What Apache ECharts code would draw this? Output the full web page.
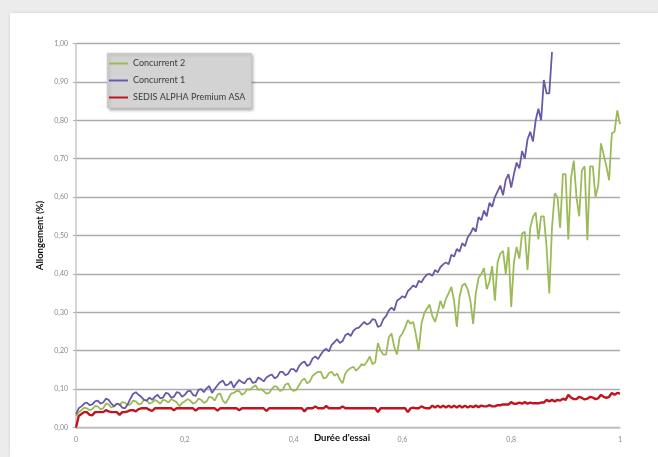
<!DOCTYPE html>
<html><head><meta charset="utf-8">
<script src="https://cdn.jsdelivr.net/npm/echarts@6/dist/echarts.min.js"></script>
<style>
html,body{margin:0;padding:0;width:658px;height:457px;overflow:hidden;background:#ececec;}
#card{position:absolute;left:10px;top:13px;width:648px;height:444px;background:#fff;box-shadow:0 0 3px rgba(0,0,0,0.12);}
#chart{position:absolute;left:0;top:0;width:658px;height:457px;}
</style></head><body><div id="card"></div><div id="chart"></div>
<script>
// Durée d'essai (x)
const duree = [
  0,0.005,0.01,0.015,0.02,0.025,0.03,0.035,0.04,0.045,
  0.05,0.055,0.06,0.065,0.07,0.075,0.08,0.085,0.09,0.095,
  0.10,0.105,0.11,0.115,0.12,0.125,0.13,0.135,0.14,0.145,
  0.15,0.155,0.16,0.165,0.17,0.175,0.18,0.185,0.19,0.195,
  0.20,0.205,0.21,0.215,0.22,0.225,0.23,0.235,0.24,0.245,
  0.25,0.255,0.26,0.265,0.27,0.275,0.28,0.285,0.29,0.295,
  0.30,0.305,0.31,0.315,0.32,0.325,0.33,0.335,0.34,0.345,
  0.35,0.355,0.36,0.365,0.37,0.375,0.38,0.385,0.39,0.395,
  0.40,0.405,0.41,0.415,0.42,0.425,0.43,0.435,0.44,0.445,
  0.45,0.455,0.46,0.465,0.47,0.475,0.48,0.485,0.49,0.495,
  0.50,0.505,0.51,0.515,0.52,0.525,0.53,0.535,0.54,0.545,
  0.55,0.555,0.56,0.565,0.57,0.575,0.58,0.585,0.59,0.595,
  0.60,0.605,0.61,0.615,0.62,0.625,0.63,0.635,0.64,0.645,
  0.65,0.655,0.66,0.665,0.67,0.675,0.68,0.685,0.69,0.695,
  0.70,0.705,0.71,0.715,0.72,0.725,0.73,0.735,0.74,0.745,
  0.75,0.755,0.76,0.765,0.77,0.775,0.78,0.785,0.79,0.795,
  0.80,0.805,0.81,0.815,0.82,0.825,0.83,0.835,0.84,0.845,
  0.85,0.855,0.86,0.865,0.87,0.875,0.88,0.885,0.89,0.895,
  0.90,0.905,0.91,0.915,0.92,0.925,0.93,0.935,0.94,0.945,
  0.95,0.955,0.96,0.965,0.97,0.975,0.98,0.985,0.99,0.995,
  1.00];

// Allongement (%) – Concurrent 1 (stops at 0.875)
const concurrent1 = [
  0.035,0.05,0.055,0.062,0.065,0.058,0.06,0.068,0.07,0.062,
  0.065,0.075,0.072,0.062,0.055,0.062,0.06,0.052,0.05,0.06,
  0.075,0.088,0.092,0.085,0.08,0.072,0.07,0.078,0.072,0.08,
  0.085,0.076,0.078,0.09,0.088,0.078,0.08,0.092,0.09,0.08,
  0.085,0.094,0.096,0.085,0.082,0.098,0.10,0.092,0.102,0.108,
  0.09,0.10,0.11,0.118,0.122,0.11,0.112,0.12,0.104,0.115,
  0.124,0.118,0.115,0.126,0.128,0.116,0.118,0.13,0.126,0.12,
  0.13,0.135,0.138,0.128,0.132,0.145,0.145,0.136,0.14,0.152,
  0.152,0.145,0.16,0.168,0.172,0.16,0.165,0.18,0.185,0.178,
  0.19,0.20,0.205,0.198,0.215,0.222,0.23,0.22,0.225,0.24,
  0.245,0.238,0.252,0.258,0.26,0.268,0.275,0.268,0.272,0.282,
  0.28,0.262,0.265,0.282,0.29,0.305,0.312,0.305,0.33,0.335,
  0.342,0.338,0.355,0.362,0.37,0.365,0.382,0.378,0.39,0.398,
  0.40,0.395,0.41,0.404,0.418,0.425,0.43,0.425,0.45,0.445,
  0.465,0.458,0.48,0.472,0.495,0.505,0.52,0.51,0.548,0.54,
  0.565,0.55,0.585,0.575,0.60,0.615,0.63,0.605,0.645,0.66,
  0.625,0.66,0.69,0.675,0.72,0.70,0.75,0.77,0.745,0.80,
  0.83,0.80,0.905,0.87,0.87,0.978];

// Concurrent 2
const concurrent2 = [
  0.03,0.04,0.045,0.052,0.05,0.045,0.048,0.056,0.055,0.048,
  0.05,0.062,0.06,0.052,0.055,0.062,0.058,0.066,0.065,0.058,
  0.06,0.07,0.068,0.06,0.062,0.072,0.07,0.062,0.065,0.072,
  0.068,0.062,0.072,0.07,0.065,0.074,0.07,0.066,0.055,0.064,
  0.068,0.074,0.07,0.062,0.065,0.075,0.072,0.064,0.068,0.08,
  0.078,0.07,0.085,0.089,0.07,0.063,0.075,0.088,0.09,0.095,
  0.095,0.085,0.09,0.10,0.098,0.105,0.11,0.098,0.10,0.095,
  0.088,0.09,0.10,0.108,0.105,0.095,0.098,0.112,0.115,0.10,
  0.095,0.098,0.11,0.122,0.128,0.115,0.12,0.135,0.14,0.145,
  0.145,0.128,0.13,0.142,0.145,0.135,0.14,0.125,0.115,0.14,
  0.15,0.155,0.158,0.148,0.155,0.165,0.162,0.172,0.185,0.165,
  0.17,0.22,0.20,0.19,0.19,0.235,0.245,0.21,0.19,0.235,
  0.245,0.26,0.28,0.27,0.275,0.24,0.20,0.27,0.297,0.31,
  0.32,0.29,0.275,0.30,0.33,0.31,0.335,0.35,0.366,0.33,
  0.262,0.34,0.37,0.375,0.36,0.33,0.27,0.35,0.39,0.40,
  0.415,0.36,0.38,0.42,0.33,0.43,0.453,0.46,0.40,0.47,
  0.314,0.43,0.47,0.44,0.505,0.51,0.41,0.52,0.548,0.56,
  0.49,0.55,0.55,0.47,0.349,0.52,0.61,0.60,0.52,0.66,
  0.66,0.49,0.65,0.695,0.60,0.55,0.67,0.68,0.488,0.68,
  0.68,0.60,0.63,0.74,0.71,0.68,0.644,0.766,0.77,0.826,
  0.79];

// SEDIS ALPHA Premium ASA
const sedis = [
  0.0,0.03,0.035,0.04,0.04,0.033,0.032,0.04,0.04,0.04,
  0.04,0.045,0.042,0.04,0.04,0.04,0.033,0.04,0.04,0.042,
  0.045,0.045,0.042,0.048,0.05,0.05,0.05,0.046,0.043,0.05,
  0.05,0.05,0.05,0.05,0.05,0.05,0.045,0.05,0.05,0.05,
  0.05,0.05,0.05,0.05,0.044,0.05,0.05,0.05,0.05,0.05,
  0.05,0.05,0.044,0.05,0.05,0.05,0.05,0.05,0.05,0.05,
  0.045,0.05,0.05,0.05,0.05,0.05,0.05,0.05,0.05,0.05,
  0.043,0.05,0.05,0.05,0.05,0.05,0.05,0.05,0.05,0.05,
  0.05,0.05,0.05,0.05,0.042,0.05,0.05,0.05,0.055,0.05,
  0.05,0.05,0.056,0.05,0.05,0.05,0.05,0.05,0.055,0.05,
  0.05,0.05,0.05,0.05,0.05,0.05,0.05,0.05,0.05,0.05,
  0.05,0.04,0.05,0.05,0.05,0.05,0.05,0.05,0.05,0.05,
  0.05,0.05,0.04,0.05,0.052,0.05,0.05,0.055,0.052,0.05,
  0.05,0.057,0.052,0.057,0.052,0.057,0.052,0.057,0.052,0.057,
  0.052,0.057,0.052,0.057,0.052,0.056,0.053,0.057,0.053,0.057,
  0.055,0.055,0.058,0.055,0.055,0.058,0.058,0.06,0.06,0.06,
  0.066,0.062,0.062,0.065,0.062,0.066,0.062,0.065,0.063,0.063,
  0.063,0.065,0.065,0.072,0.068,0.072,0.068,0.072,0.07,0.075,
  0.072,0.085,0.078,0.074,0.074,0.08,0.077,0.073,0.075,0.08,
  0.078,0.074,0.076,0.085,0.08,0.077,0.08,0.09,0.085,0.09,
  0.088];

const seriesNames = ['Concurrent 2','Concurrent 1','SEDIS ALPHA Premium ASA'];
const seriesColors = ['#9bbb59','#6a5aa6','#c0141e'];
const xTitle = "Durée d'essai";
const yTitle = 'Allongement (%)';

const pair = arr => arr.map((v,i)=>[duree[i], v]);

const chart = echarts.init(document.getElementById('chart'), null, {renderer:'canvas'});
chart.setOption({
  animation:false,
  backgroundColor:'transparent',
  textStyle:{fontFamily:'Lato, "Open Sans", sans-serif'},
  grid:{left:76, right:38, top:43.5, bottom:29.5, containLabel:false, outerBoundsMode:'none'},
  legend:{
    orient:'vertical', left:107, top:53,
    backgroundColor:'#d3d3d3', borderColor:'#c4c4c4', borderWidth:0.5,
    shadowColor:'rgba(0,0,0,0.35)', shadowBlur:3, shadowOffsetX:2, shadowOffsetY:2,
    padding:[6,6,6,1], itemGap:8, itemWidth:19, itemHeight:10,
    itemStyle:{opacity:0},
    data:seriesNames,
    textStyle:{fontSize:9, color:'#3a3a3a', fontFamily:'Lato, sans-serif'}
  },
  xAxis:{
    type:'value', min:0, max:1, interval:0.2,
    name:xTitle, nameLocation:'middle', nameGap:5, nameMoveOverlap:false,
    nameTextStyle:{fontWeight:'bold', fontSize:9.5, color:'#111', padding:[0,0,0,-12]},
    axisLine:{show:true, lineStyle:{color:'#c8c8c8', width:1.5}},
    axisTick:{show:false},
    splitLine:{show:false},
    axisLabel:{fontSize:7, color:'#8a8a8a', margin:9,
      formatter:v=> v===0?'0':(v===1?'1':v.toFixed(1).replace('.',','))}
  },
  yAxis:{
    type:'value', min:0, max:1, interval:0.1,
    name:yTitle, nameLocation:'middle', nameGap:31, nameMoveOverlap:false,
    nameTextStyle:{fontWeight:'bold', fontSize:9.5, color:'#111'},
    axisLine:{show:true, lineStyle:{color:'#c8c8c8', width:1.5}},
    axisTick:{show:true, length:3, lineStyle:{color:'#b0b0b0'}},
    splitLine:{show:true, lineStyle:{color:'#ababab', width:1.3}},
    axisLabel:{fontSize:7, color:'#8a8a8a', margin:8,
      formatter:v=> v.toFixed(2).replace('.',',')}
  },
  series:[
    {name:seriesNames[0], type:'line', symbol:'none', data:pair(concurrent2),
      lineStyle:{color:seriesColors[0], width:1.8}, itemStyle:{color:seriesColors[0]}},
    {name:seriesNames[1], type:'line', symbol:'none', data:pair(concurrent1),
      lineStyle:{color:seriesColors[1], width:1.8}, itemStyle:{color:seriesColors[1]}},
    {name:seriesNames[2], type:'line', symbol:'none', data:pair(sedis),
      lineStyle:{color:seriesColors[2], width:2.4}, itemStyle:{color:seriesColors[2]}}
  ]
});
</script></body></html>
